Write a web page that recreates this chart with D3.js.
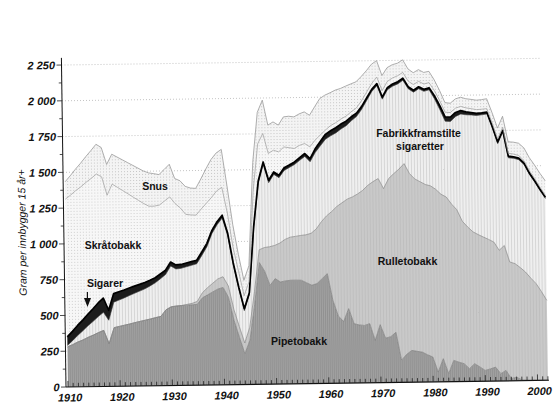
<!DOCTYPE html>
<html>
<head>
<meta charset="utf-8">
<script src="https://cdn.jsdelivr.net/npm/d3@7"></script>
<style>
  html, body { margin: 0; padding: 0; background: #fff; }
  svg { display: block; font-family: "Liberation Sans", Arial, Helvetica, sans-serif; }
</style>
</head>
<body>
<div class="container"></div>
<script>
const width = 557;
const height = 420;

// gram per innbygger 15 år+, 1910-2002
const years = d3.range(1910, 2003);

const pipetobakk = [
  280, 295, 313, 327, 345, 360, 377, 392, 299, 410,
  418, 426, 434, 443, 451, 459, 467, 476, 484, 530,
  550, 555, 558, 560, 562, 565, 610, 630, 650, 670,
  680, 610, 450, 330, 215, 310, 560, 850, 790, 690,
  737, 713, 720, 724, 724, 723, 705, 687, 698, 732,
  767, 580, 470, 430, 520, 414, 405, 401, 413, 296,
  405, 310, 320, 350, 155, 195, 222, 215, 209, 190,
  174, 68, 161, 56, 148, 135, 124, 89, 123, 100,
  75, 85, 97, 51, 73, 15, 25, 5, 5, 4,
  4, 3, 3,
];

const rulletobakk = [
  0, 0, 0, 0, 0, 0, 0, 0, 0, 0,
  0, 0, 0, 0, 0, 0, 0, 0, 0, 0,
  0, 0, 0, 5, 10, 20, 35, 50, 60, 70,
  75, 80, 75, 75, 75, 90, 90, 90, 165, 270,
  232, 272, 290, 301, 306, 313, 335, 363, 382, 398,
  403, 620, 765, 830, 765, 886, 915, 944, 967, 1109,
  1021, 1045, 1105, 1109, 1335, 1333, 1236, 1205, 1191, 1190,
  1196, 1277, 1149, 1234, 1092, 1065, 996, 991, 922, 925,
  932, 905, 874, 862, 873, 815, 793, 785, 753, 711,
  672, 617, 555,
];

const sigaretter = [
  10, 28, 46, 64, 81, 96, 112, 126, 163, 178,
  184, 191, 199, 205, 212, 219, 231, 243, 263, 246,
  285, 259, 260, 263, 266, 263, 261, 287, 348, 379,
  410, 352, 309, 261, 226, 225, 434, 462, 580, 448,
  496, 457, 482, 487, 502, 525, 548, 500, 534, 530,
  536, 529, 514, 516, 513, 532, 541, 565, 592, 629,
  649, 625, 620, 611, 595, 582, 592, 606, 649, 651,
  671, 633, 592, 530, 578, 652, 749, 783, 816, 832,
  854, 877, 797, 745, 793, 728, 736, 754, 751, 725,
  709, 705, 712,
];

const sigarer = [
  60, 65, 70, 75, 80, 88, 95, 100, 70, 60,
  58, 55, 52, 50, 47, 44, 40, 36, 33, 30,
  28, 28, 27, 27, 26, 25, 24, 23, 22, 21,
  20, 18, 16, 14, 14, 15, 16, 18, 18, 17,
  17, 17, 18, 18, 18, 19, 20, 22, 26, 30,
  34, 36, 36, 34, 32, 28, 24, 20, 18, 16,
  15, 15, 15, 15, 15, 15, 14, 14, 14, 14,
  14, 22, 28, 30, 30, 28, 24, 20, 17, 15,
  14, 13, 12, 12, 12, 12, 11, 11, 11, 10,
  10, 10, 10,
];

const skraatobakk = [
  963, 952, 942, 931, 922, 911, 901, 847, 804, 765,
  730, 695, 659, 622, 587, 552, 517, 500, 482, 484,
  455, 429, 395, 340, 326, 315, 300, 280, 230, 215,
  195, 140, 110, 110, 90, 80, 250, 260, 199, 187,
  152, 163, 146, 120, 94, 85, 70, 82, 60, 45,
  29, 35, 35, 35, 35, 35, 35, 40, 40, 40,
  45, 45, 43, 42, 42, 40, 40, 39, 38, 37,
  36, 35, 34, 33, 32, 30, 29, 28, 27, 26,
  25, 24, 23, 22, 21, 20, 19, 18, 17, 16,
  15, 14, 12,
];

const snus = [
  121, 136, 150, 165, 179, 194, 208, 205, 215, 209,
  212, 215, 218, 222, 225, 228, 233, 227, 213, 220,
  228, 175, 190, 195, 188, 187, 210, 240, 265, 265,
  265, 190, 160, 120, 108, 110, 200, 220, 233, 198,
  198, 187, 210, 220, 221, 220, 221, 221, 233, 255,
  245, 230, 228, 214, 210, 195, 184, 170, 150, 135,
  115, 105, 97, 93, 88, 88, 85, 83, 82, 81,
  79, 75, 71, 67, 65, 65, 64, 64, 65, 66,
  67, 69, 72, 75, 77, 80, 83, 86, 89, 92,
  95, 98, 103,
];

const yTicks = [0, 250, 500, 750, 1000, 1250, 1500, 1750, 2000, 2250];
const xTicks = [1910, 1920, 1930, 1940, 1950, 1960, 1970, 1980, 1990, 2000];

const keys = ['pipetobakk', 'rulletobakk', 'sigaretter', 'sigarer', 'skraatobakk', 'snus'];
const series = { pipetobakk, rulletobakk, sigaretter, sigarer, skraatobakk, snus };

const table = years.map((year, i) => {
  const row = { year };
  keys.forEach(k => { row[k] = series[k][i]; });
  return row;
});

const layers = d3.stack().keys(keys)(table);

const x = d3.scaleLinear().domain([1910, 2002]).range([68, 548]);
const y = d3.scaleLinear().domain([0, 2250]).range([387, 65]);

const svg = d3.select('.container')
  .append('svg')
  .attr('width', width)
  .attr('height', height);

// textures of the printed original
const defs = svg.append('defs');

function stripes(id, bg, fg, w) {
  const p = defs.append('pattern')
    .attr('id', id)
    .attr('patternUnits', 'userSpaceOnUse')
    .attr('width', w)
    .attr('height', 4);
  p.append('rect').attr('width', w).attr('height', 4).attr('fill', bg);
  p.append('rect').attr('width', 1).attr('height', 4).attr('fill', fg);
}

function dots(id, bg, fg, w) {
  const p = defs.append('pattern')
    .attr('id', id)
    .attr('patternUnits', 'userSpaceOnUse')
    .attr('width', w)
    .attr('height', w);
  p.append('rect').attr('width', w).attr('height', w).attr('fill', bg);
  p.append('rect').attr('x', 1).attr('y', 1).attr('width', 1).attr('height', 1).attr('fill', fg);
}

stripes('pat-pipe', '#a2a2a2', '#919191', 2);
stripes('pat-rulle', '#c9c9c9', '#bfbfbf', 3);
stripes('pat-sig', '#efefef', '#d6d6d6', 3);
dots('pat-skra', '#f7f7f7', '#cfcfcf', 3);
dots('pat-snus', '#f4f4f4', '#c6c6c6', 3);

const fills = {
  pipetobakk: 'url(#pat-pipe)',
  rulletobakk: 'url(#pat-rulle)',
  sigaretter: 'url(#pat-sig)',
  sigarer: '#1c1c1c',
  skraatobakk: 'url(#pat-skra)',
  snus: 'url(#pat-snus)',
};

const edges = {
  pipetobakk: ['#7a7a7a', 0.7],
  rulletobakk: ['#858585', 0.7],
  sigaretter: ['#333', 0.6],
  sigarer: ['#000', 1.7],
  skraatobakk: ['#9a9a9a', 0.7],
  snus: ['#9a9a9a', 0.8],
};

// the scan is slightly tilted
const plot = svg.append('g')
  .attr('transform', 'rotate(-0.8, 66, 387)');

plot.append('g')
  .selectAll('line')
  .data(yTicks.slice(1))
  .enter()
  .append('line')
  .attr('x1', 66)
  .attr('x2', 546)
  .attr('y1', d => y(d))
  .attr('y2', d => y(d))
  .attr('stroke', '#b5b5b5')
  .attr('stroke-width', 0.8)
  .attr('stroke-dasharray', '1,2');

const area = d3.area()
  .x(d => x(d.data.year))
  .y0(d => y(d[0]))
  .y1(d => y(d[1]));

const topLine = d3.line()
  .x(d => x(d.data.year))
  .y(d => y(d[1]));

plot.append('g')
  .selectAll('path')
  .data(layers)
  .enter()
  .append('path')
  .attr('d', area)
  .attr('fill', d => fills[d.key]);

plot.append('g')
  .selectAll('path')
  .data(layers)
  .enter()
  .append('path')
  .attr('d', topLine)
  .attr('fill', 'none')
  .attr('stroke', d => edges[d.key][0])
  .attr('stroke-width', d => edges[d.key][1])
  .attr('stroke-linejoin', 'round');

// y axis
const fmt = d3.formatLocale({ decimal: ',', thousands: ' ', grouping: [3], currency: ['', ''] }).format(',');

plot.append('line')
  .attr('x1', 66).attr('x2', 66)
  .attr('y1', y(0)).attr('y2', y(2300))
  .attr('stroke', '#111').attr('stroke-width', 1);

plot.append('g')
  .selectAll('line')
  .data(d3.range(0, 2300, 125))
  .enter()
  .append('line')
  .attr('x1', d => (d % 250 === 0 ? 61 : 63))
  .attr('x2', 66)
  .attr('y1', d => y(d))
  .attr('y2', d => y(d))
  .attr('stroke', '#222')
  .attr('stroke-width', 0.8);

plot.append('g')
  .selectAll('text')
  .data(yTicks)
  .enter()
  .append('text')
  .attr('x', 59.5)
  .attr('y', d => y(d))
  .attr('dy', '0.36em')
  .attr('text-anchor', 'end')
  .attr('font-size', 11)
  .attr('font-weight', 'bold')
  .attr('font-style', 'italic')
  .attr('fill', '#111')
  .text(d => fmt(d));

// x axis
plot.append('line')
  .attr('x1', 66).attr('x2', 549)
  .attr('y1', y(0)).attr('y2', y(0))
  .attr('stroke', '#111').attr('stroke-width', 1.2);

plot.append('g')
  .selectAll('line')
  .data(years)
  .enter()
  .append('line')
  .attr('x1', d => x(d))
  .attr('x2', d => x(d))
  .attr('y1', y(0))
  .attr('y2', d => y(0) - (d % 10 === 0 ? 6 : 4))
  .attr('stroke', '#222')
  .attr('stroke-width', 0.8);

plot.append('g')
  .selectAll('text')
  .data(xTicks)
  .enter()
  .append('text')
  .attr('x', d => x(d) + 2)
  .attr('y', y(0) + 14.5)
  .attr('text-anchor', 'middle')
  .attr('font-size', 11)
  .attr('font-weight', 'bold')
  .attr('font-style', 'italic')
  .attr('fill', '#111')
  .text(d => d);

plot.append('text')
  .attr('transform', 'translate(28, 232) rotate(-90)')
  .attr('text-anchor', 'middle')
  .attr('font-size', 10.5)
  .attr('font-style', 'italic')
  .attr('fill', '#111')
  .text('Gram per innbygger 15 år+');

// layer names
const names = [
  { text: 'Snus', x: 155, y: 189.5 },
  { text: 'Skråtobakk', x: 113, y: 249 },
  { text: 'Sigarer', x: 105, y: 286.5 },
  { text: 'Fabrikkframstilte', x: 418.5, y: 136.5 },
  { text: 'sigaretter', x: 420, y: 149.5 },
  { text: 'Rulletobakk', x: 407.5, y: 265 },
  { text: 'Pipetobakk', x: 299, y: 344.5 },
];

svg.append('g')
  .selectAll('text')
  .data(names)
  .enter()
  .append('text')
  .attr('x', d => d.x)
  .attr('y', d => d.y)
  .attr('text-anchor', 'middle')
  .attr('font-size', 10.5)
  .attr('font-weight', 'bold')
  .attr('fill', '#111')
  .text(d => d.text);

// pointer to the thin cigar band
svg.append('line')
  .attr('x1', 87.4).attr('x2', 87.4)
  .attr('y1', 292).attr('y2', 299)
  .attr('stroke', '#111').attr('stroke-width', 1.2);

svg.append('path')
  .attr('d', 'M84,298 L91,298 L87.5,307 Z')
  .attr('fill', '#111');
</script>
</body>
</html>
